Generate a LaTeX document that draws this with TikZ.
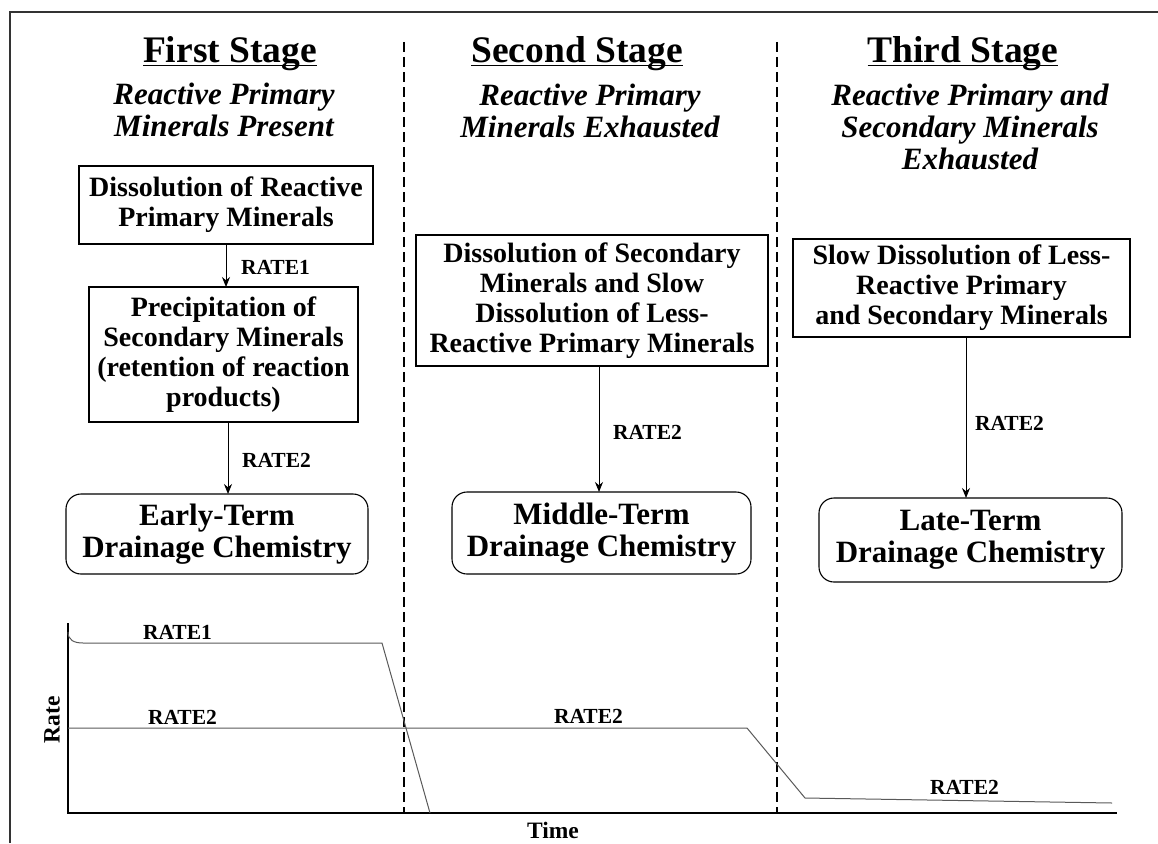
\documentclass[tikz,border=0pt]{standalone}
\usepackage{fontspec}
\setmainfont{Liberation Serif}
\usetikzlibrary{arrows.meta}
\begin{document}
\begin{tikzpicture}[x=1pt,y=-1pt,
  every node/.style={inner sep=0pt, outer sep=0pt},
  heading/.style={font=\bfseries\fontsize{37.5}{40}\selectfont, anchor=base},
  subtitle/.style={font=\bfseries\itshape\fontsize{31}{32}\selectfont, align=center, anchor=base},
  procbox/.style={draw, line width=1.1pt, align=center, font=\bfseries\fontsize{28}{30}\selectfont},
  termbox/.style={draw, line width=1.1pt, rounded corners=15pt, align=center, font=\bfseries\fontsize{31}{31.5}\selectfont},
  ratelabel/.style={font=\bfseries\fontsize{21.5}{22}\selectfont, anchor=base west},
  axislabel/.style={font=\bfseries\fontsize{23.5}{24}\selectfont},
  flow/.style={line width=1pt, -{Stealth[length=10pt,width=8pt]}},
  divider/.style={line width=1.1pt, dash pattern=on 10pt off 5pt},
  curve/.style={line width=1pt, black!65},
  uline/.style={line width=1.6pt},
]
\useasboundingbox (0,0) rectangle (1158,843);
% frame
\draw[line width=1.4pt, black!80] (10,843) -- (10,12) -- (1158,12);
% dividers
\coordinate (d1t) at (404,42); \coordinate (d1b) at (404,813);
\coordinate (d2t) at (777,42); \coordinate (d2b) at (777,813);
\draw[divider] (d1t) -- (d1b);
\draw[divider] (d2t) -- (d2b);
% headings
\node[heading] (h1) at (230,63) {First Stage};
\node[heading] (h2) at (577,63) {Second Stage};
\node[heading] (h3) at (963,63) {Third Stage};
\foreach \h in {h1,h2,h3}{
  \draw[uline] ([yshift=-2.5pt]\h.base west) -- ([yshift=-2.5pt]\h.base east);
}
% subtitles (anchor = baseline of last line)
\node[subtitle] (s1) at (224,136) {Reactive Primary\\Minerals Present};
\node[subtitle] (s2) at (590,137) {Reactive Primary\\Minerals Exhausted};
\node[subtitle] (s3) at (970,169) {Reactive Primary and\\Secondary Minerals\\Exhausted};
% first stage
\node[procbox, minimum width=294pt, minimum height=78pt] (p1) at (226,205) {Dissolution of Reactive\\Primary Minerals};
\node[procbox, minimum width=269pt, minimum height=135pt] (p2) at (223.5,354.5) {Precipitation of\\Secondary Minerals\\(retention of reaction\\products)};
\node[termbox, minimum width=302pt, minimum height=80pt] (t1) at (217,534) {Early-Term\\Drainage Chemistry};
\draw[flow] (p1.south) -- (p1.south |- p2.north);
\coordinate (a2) at ([xshift=4.5pt]p2.south);
\draw[flow] (a2) -- (a2 |- t1.north);
\node[ratelabel] (l1) at (241,274) {RATE1};
\node[ratelabel] (l2) at (242,467) {RATE2};
% second stage
\node[procbox, minimum width=352pt, minimum height=131pt] (p3) at (592,300.5) {Dissolution of Secondary\\Minerals and Slow\\Dissolution of Less-\\Reactive Primary Minerals};
\node[termbox, minimum width=299pt, minimum height=82pt] (t2) at (601.5,533) {Middle-Term\\Drainage Chemistry};
\coordinate (a3) at ([xshift=7pt]p3.south);
\draw[flow] (a3) -- (a3 |- t2.north);
\node[ratelabel] (l3) at (613,439) {RATE2};
% third stage
\node[procbox, minimum width=337pt, minimum height=98pt] (p4) at (961.5,288) {Slow Dissolution of Less-\\Reactive Primary\\and Secondary Minerals};
\node[termbox, minimum width=303pt, minimum height=84pt] (t3) at (970.5,540) {Late-Term\\Drainage Chemistry};
\coordinate (a4) at ([xshift=4.5pt]p4.south);
\draw[flow] (a4) -- (a4 |- t3.north);
\node[ratelabel] (l4) at (975,430) {RATE2};
% graph
\coordinate (ytop) at (68,623);
\coordinate (orig) at (68,813);
\coordinate (xend) at (1117,813);
\draw[line width=1.2pt] (ytop) -- (orig) -- (xend);
\draw[curve] (68,632) .. controls (68,640) and (74,643) .. (83,643) -- (382,643) -- (430,813);
\draw[curve] (68,728) -- (747,728) -- (805,798) -- (1112,803);
\node[ratelabel] (g1) at (143,639) {RATE1};
\node[ratelabel] (g2) at (148,724) {RATE2};
\node[ratelabel] (g3) at (554,723) {RATE2};
\node[ratelabel] (g4) at (930,794) {RATE2};
\node[axislabel, rotate=90] (rate) at (52,720) {Rate};
\node[axislabel, anchor=base] (time) at (553,838) {Time};
\end{tikzpicture}
\end{document}
